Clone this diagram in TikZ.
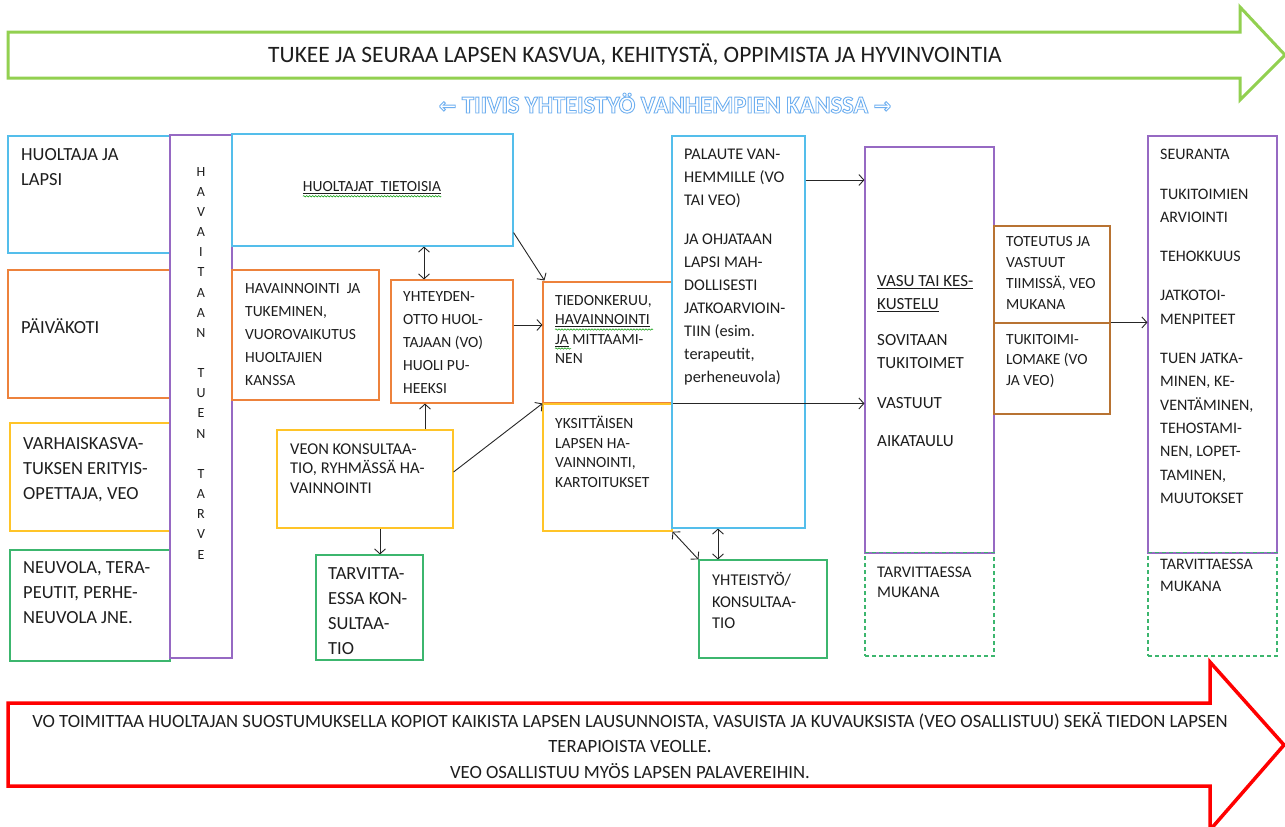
\documentclass[tikz,border=0pt]{standalone}
\usepackage{fontspec}
\setmainfont{Carlito}
\newfontfamily\symf{DejaVu Sans}
\usetikzlibrary{arrows.meta,fit,calc,decorations.pathmorphing}
\definecolor{cyanb}{RGB}{84,190,235}
\definecolor{orangeb}{RGB}{237,130,60}
\definecolor{yellowb}{RGB}{255,196,40}
\definecolor{greenb}{RGB}{60,182,110}
\definecolor{purpleb}{RGB}{150,105,195}
\definecolor{brownb}{RGB}{184,115,50}
\definecolor{arrgreen}{RGB}{146,208,80}
\definecolor{lightblue}{RGB}{110,175,240}
\definecolor{txtc}{RGB}{30,30,30}
\newcommand{\fs}[2]{\fontsize{#1}{#2}\selectfont}
\newcommand{\outl}[1]{\special{pdf:literal direct 1 Tr 0.9 w}#1\special{pdf:literal direct 0 Tr}}
\tikzset{
  box/.style={draw, line width=1.1pt, inner sep=0pt},
  t/.style={anchor=north west, align=left, inner sep=0pt, text=txtc, font=\fs{15.5}{23}, execute at begin node={\rule{0pt}{14pt}}},
  arr/.style={draw=black!85, line width=0.9pt, -{Straight Barb[length=5pt,width=11pt]}},
  darr/.style={draw=black!85, line width=0.9pt, {Straight Barb[length=5pt,width=11pt]}-{Straight Barb[length=5pt,width=11pt]}},
  spell/.style={draw=green!60!black, line width=0.5pt, decorate, decoration={snake, segment length=3pt, amplitude=0.7pt}}
}
\begin{document}
\begin{tikzpicture}[x=1pt,y=-1pt]
\useasboundingbox (0,0) rectangle (1285,827);
\fill[white] (0,0) rectangle (1285,827);

% top green arrow
\draw[arrgreen, line width=3pt, line join=miter] (8,32) -- (1240,32) -- (1240,7) -- (1285,55) -- (1240,100) -- (1240,78) -- (8,78) -- cycle;
\node[text=txtc, font=\fs{23.5}{28}, inner sep=0, anchor=base] (topT) at (635,62) {TUKEE JA SEURAA LAPSEN KASVUA, KEHITYSTÄ, OPPIMISTA JA HYVINVOINTIA};
\node[text=lightblue, font=\bfseries\fs{24.4}{28}, inner sep=0, anchor=base] (tiivis) at (665,113) {\outl{{\symf\fs{21}{28}←} TIIVIS YHTEISTYÖ VANHEMPIEN KANSSA {\symf\fs{21}{28}→}}};

% left column
\node[box, draw=cyanb, fit={(8,136)(170,253)}] (hl) {};
\node[box, draw=orangeb, fit={(8,270)(170,398)}] (pk) {};
\node[box, draw=yellowb, fit={(10,423)(170,531)}] (ve) {};
\node[box, draw=greenb, fit={(10,550)(170,661)}] (ne) {};
\node[box, draw=purpleb, fit={(170,135)(232,658)}] (ht) {};
\node[t, font=\fs{18.5}{25}] (hlT) at (21,148) {HUOLTAJA JA\\LAPSI};
\node[t, font=\fs{18.5}{25}] (pkT) at (21,318) {PÄIVÄKOTI};
\node[t, font=\fs{18.5}{25}] (veT) at (23,437) {VARHAISKASVA-\\TUKSEN ERITYIS-\\OPETTAJA, VEO};
\node[t, font=\fs{18.5}{25}] (neT) at (23,561) {NEUVOLA, TERA-\\PEUTIT, PERHE-\\NEUVOLA JNE.};
\node[anchor=base, align=center, inner sep=0, text=txtc, font=\fs{14}{20.15}] (htT) at (201,559)
  {H\\A\\V\\A\\I\\T\\A\\A\\N\\\mbox{}\\T\\U\\E\\N\\\mbox{}\\T\\A\\R\\V\\E};

% second column
\node[box, draw=cyanb, fit={(232,134)(513,246)}] (tie) {};
\node[box, draw=orangeb, fit={(232,270)(379,400)}] (hav) {};
\node[box, draw=orangeb, fit={(391,280)(513,403)}] (yht) {};
\node[box, draw=yellowb, fit={(277,430)(453,528)}] (vkon) {};
\node[box, draw=greenb, fit={(316,555)(423,660)}] (tkon) {};
\node[inner sep=0, text=txtc, font=\fs{15.5}{23}] (tieT) at (372,188) {\underline{HUOLTAJAT\ \ TIETOISIA}};
\draw[spell] ($(tieT.south west)+(0,2)$) -- ($(tieT.south east)+(0,2)$);
\node[t] (havT) at (245,283) {HAVAINNOINTI\ \ JA\\TUKEMINEN,\\VUOROVAIKUTUS\\HUOLTAJIEN\\KANSSA};
\node[t] (yhtT) at (403,291) {YHTEYDEN-\\OTTO HUOL-\\TAJAAN (VO)\\HUOLI PU-\\HEEKSI};
\node[t, font=\fs{16.5}{19.5}] (vkonT) at (290,443.3) {VEON\ KONSULTAA-\\TIO, RYHMÄSSÄ\ HA-\\VAINNOINTI};
\node[t, font=\fs{18.5}{25.3}] (tkonT) at (328,567) {TARVITTA-\\ESSA KON-\\SULTAA-\\TIO};

% third column
\node[box, draw=orangeb, fit={(543,282)(672,403)}] (tk) {};
\node[box, draw=yellowb, fit={(543,404)(672,531)}] (yks) {};
\node[box, draw=cyanb, fit={(672,136)(805,528)}] (pal) {};
\node[box, draw=greenb, fit={(699,560)(827,658)}] (yk) {};
\node[t, font=\fs{15.5}{19.5}] (tkT) at (555,295) {TIEDONKERUU,\\\underline{HAVAINNOINTI}\\\underline{JA} MITTAAMI-\\NEN};
\draw[spell] ($(tkT.north west)+(0,34.5)$) -- ++(98,0);
\draw[spell] ($(tkT.north west)+(0,53.5)$) -- ++(16,0);
\node[t, font=\fs{15.5}{19.5}] (yksT) at (555,416) {YKSITTÄISEN\\LAPSEN HA-\\VAINNOINTI,\\KARTOITUKSET};
\node[t, font=\fs{16.3}{23}] (palT) at (684,149.3) {PALAUTE VAN-\\HEMMILLE\ (VO\\TAI VEO)\\[16pt]JA OHJATAAN\\LAPSI MAH-\\DOLLISESTI\\JATKOARVIOIN-\\TIIN\ (esim.\\terapeutit,\\perheneuvola)};
\node[t, font=\fs{16.5}{21.5}] (ykT) at (712,572.3) {YHTEISTYÖ/\\KONSULTAA-\\TIO};

% fourth column
\node[box, draw=purpleb, fit={(865,147)(994,553)}] (vasu) {};
\node[box, draw=greenb, dashed, dash pattern=on 4pt off 3pt, fit={(865,553)(994,656)}] (tm1) {};
\node[box, draw=brownb, fit={(994,226)(1110,323)}] (tot) {};
\node[box, draw=brownb, fit={(994,323)(1110,414)}] (tl) {};
\draw[purpleb, line width=1.1pt] (vasu.south west) -- (vasu.south east);
\node[t, font=\fs{17}{23}] (vasuT) at (877,275.5) {\underline{VASU TAI KES-}\\\underline{KUSTELU}\\[13pt]SOVITAAN\\TUKITOIMET\\[17pt]VASTUUT\\[15pt]AIKATAULU};
\node[t, font=\fs{16.3}{20}] (tm1T) at (877,566.3) {TARVITTAESSA\\MUKANA};
\node[t, font=\fs{15.5}{21}] (totT) at (1006,236) {TOTEUTUS JA\\VASTUUT\\TIIMISSÄ, VEO\\MUKANA};
\node[t, font=\fs{15.5}{20.5}] (tlT) at (1006,334) {TUKITOIMI-\\LOMAKE (VO\\JA VEO)};

% fifth column
\node[box, draw=purpleb, fit={(1148,136)(1277,553)}] (seu) {};
\node[box, draw=greenb, dashed, dash pattern=on 4pt off 3pt, fit={(1148,553)(1277,656)}] (tm2) {};
\draw[purpleb, line width=1.1pt] (seu.south west) -- (seu.south east);
\node[t, font=\fs{16}{23.3}] (seuT) at (1160,149.2) {SEURANTA\\[16pt]TUKITOIMIEN\\ARVIOINTI\\[16pt]TEHOKKUUS\\[16pt]JATKOTOI-\\MENPITEET\\[16pt]TUEN\ JATKA-\\MINEN,\ KE-\\VENTÄMINEN,\\TEHOSTAMI-\\NEN,\ LOPET-\\TAMINEN,\\MUUTOKSET};
\node[t, font=\fs{16}{22}] (tm2T) at (1160,559.2) {TARVITTAESSA\\MUKANA};

% connectors
\coordinate (c1) at (424,0);
\coordinate (c2) at (425,0);
\coordinate (c3) at (380,0);
\coordinate (c4) at (718,0);
\coordinate (r1) at (0,325);
\coordinate (r2) at (0,180);
\coordinate (r3) at (0,472);
\draw[darr] (tie.south -| c1) -- (yht.north -| c1);
\draw[arr] ($(tie.south east)+(0,-14)$) -- ($(tk.north west)+(2,-1)$);
\draw[arr] (yht.east |- r1) -- (tk.west |- r1);
\draw[arr] (vkon.north -| c2) -- (yht.south -| c2);
\draw[arr] (vkon.east |- r3) -- (yks.north west);
\draw[arr] (vkon.south -| c3) -- (tkon.north -| c3);
\draw[darr] (yks.south east) -- (yk.north west);
\draw[darr] (pal.south -| c4) -- (yk.north -| c4);
\draw[arr] (pal.east |- r2) -- (vasu.west |- r2);
\draw[arr] (yks.north east) -- (vasu.west |- yks.north east);
\draw[arr] (tl.north east) -- (seu.west |- tl.north east);

% bottom red arrow
\draw[red, line width=3.5pt, line join=miter] (8,703) -- (1210,703) -- (1210,662) -- (1284,745) -- (1210,830) -- (1210,786) -- (8,786) -- cycle;
\node[align=center, text=txtc, font=\fs{18.7}{25.5}, inner sep=0, anchor=base] (botT) at (630,778)
  {VO TOIMITTAA HUOLTAJAN SUOSTUMUKSELLA KOPIOT KAIKISTA LAPSEN LAUSUNNOISTA, VASUISTA JA KUVAUKSISTA (VEO OSALLISTUU) SEKÄ TIEDON LAPSEN\\TERAPIOISTA VEOLLE.\\VEO OSALLISTUU MYÖS LAPSEN PALAVEREIHIN.};
\end{tikzpicture}
\end{document}
